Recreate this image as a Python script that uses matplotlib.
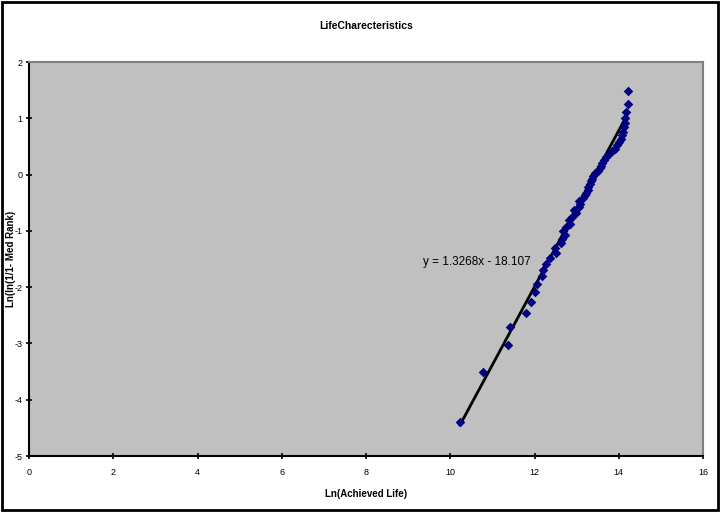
import matplotlib
matplotlib.use("Agg")
import matplotlib.pyplot as plt

plt.rcParams['font.family'] = ['Liberation Sans', 'DejaVu Sans']
plt.rcParams['axes.unicode_minus'] = False

# Ln(Achieved Life) values
ln_life = [10.23, 10.78, 11.37, 11.42, 11.80, 11.92, 12.00, 12.06, 12.18, 12.20,
           12.27, 12.36, 12.50, 12.48, 12.62, 12.66, 12.72, 12.68, 12.75, 12.84,
           12.82, 12.90, 12.98, 12.93, 13.05, 13.08, 13.06, 13.14, 13.20, 13.23,
           13.27, 13.28, 13.31, 13.33, 13.36, 13.40, 13.44, 13.50, 13.55, 13.57,
           13.60, 13.65, 13.70, 13.77, 13.84, 13.90, 13.96, 14.00, 14.05, 14.08,
           14.10, 14.12, 14.14, 14.16, 14.18, 14.22, 14.22]

# Ln(ln(1/(1-Median Rank))) values
ln_rank = [-4.40, -3.50, -3.03, -2.71, -2.46, -2.26, -2.09, -1.94, -1.81, -1.69,
           -1.58, -1.48, -1.39, -1.30, -1.22, -1.14, -1.07, -1.00, -0.93, -0.87,
           -0.81, -0.75, -0.69, -0.63, -0.58, -0.52, -0.47, -0.42, -0.37, -0.32,
           -0.27, -0.22, -0.17, -0.12, -0.08, -0.03, 0.02, 0.07, 0.12, 0.16,
           0.21, 0.26, 0.31, 0.36, 0.41, 0.46, 0.52, 0.58, 0.64, 0.70,
           0.76, 0.84, 0.92, 1.01, 1.12, 1.26, 1.48]

# trendline ends as drawn in the chart
trend_x = [10.23, 14.20]
trend_y = [-4.45, 1.06]
equation = 'y = 1.3268x - 18.107'

fig = plt.figure(figsize=(7.2, 5.12), dpi=100)
ax = fig.add_axes([29/720, 56/512, 674/720, 394/512])
ax.set_facecolor('#C0C0C0')

ax.plot(trend_x, trend_y, color='black', lw=2, zorder=2)
ax.scatter(ln_life, ln_rank, marker='D', s=24, color='#000080', zorder=3, linewidths=0)

ax.text(11.9, -1.55, equation, fontsize=8.5, ha='right', va='center')

ax.set_xlim(0, 16)
ax.set_ylim(-5, 2)
ax.set_xticks(range(0, 17, 2))
ax.set_yticks(range(-5, 3))

for s in ['top', 'right']:
    ax.spines[s].set_color('#808080')
    ax.spines[s].set_linewidth(1.5)
for s in ['left', 'bottom']:
    ax.spines[s].set_color('black')
    ax.spines[s].set_linewidth(1.5)

ax.tick_params(direction='inout', length=5, width=1.2, labelsize=6.5, color='black')
ax.tick_params(axis='x', pad=6)
ax.tick_params(axis='y', pad=2)

ax.set_title('LifeCharecteristics', fontsize=7.5, fontweight='bold', pad=24)
ax.set_xlabel('Ln(Achieved Life)', fontsize=7, fontweight='bold', labelpad=9)
ax.set_ylabel('Ln(ln(1/1- Med Rank)', fontsize=7, fontweight='bold')
ax.yaxis.set_label_coords(-0.019, 0.5)

# outer chart border
fig.patches.append(plt.Rectangle((0.003, 0.003), 0.994, 0.994, transform=fig.transFigure,
                                 fill=False, edgecolor='black', lw=2))

fig.savefig('out.png', dpi=100)
